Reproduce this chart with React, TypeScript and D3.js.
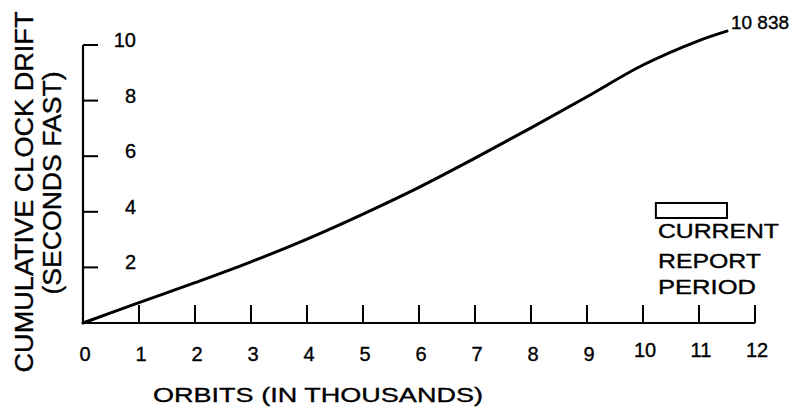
import { useEffect, useRef } from "react";
import * as d3 from "d3";

// values (orbits in thousands, seconds fast)
const orbits = [0, 1, 2, 3, 4, 5, 6, 7, 8, 9, 10, 11, 11.5];
const drift = [0, 0.73, 1.45, 2.2, 3.02, 3.92, 4.88, 5.93, 7.02, 8.14, 9.28, 10.16, 10.5];

const xTicks = [0, 1, 2, 3, 4, 5, 6, 7, 8, 9, 10, 11, 12];
const yTicks = [2, 4, 6, 8, 10];

const endLabel = "10 838";
const periodStart = 10.23;
const periodEnd = 11.5;
const periodLines = ["CURRENT", "REPORT", "PERIOD"];

export default function App() {
  const svgRef = useRef<SVGSVGElement | null>(null);

  useEffect(() => {
    const width = 798;
    const height = 410;
    const font = "'Liberation Sans', Arial, sans-serif";

    const svg = d3
      .select(svgRef.current)
      .attr("width", width)
      .attr("height", height)
      .style("background", "#fff");

    svg.selectAll("*").remove();

    const x = d3.scaleLinear().domain([0, 12]).range([83, 755]);
    const y = d3.scaleLinear().domain([0, 10]).range([323, 45]);

    // slightly thicker lettering like the scanned original
    const ink = (sel: any) =>
      sel
        .style("font-family", font)
        .attr("fill", "#000")
        .attr("stroke", "#000")
        .attr("stroke-width", 0.35);

    // y axis
    svg
      .append("line")
      .attr("x1", x(0))
      .attr("x2", x(0))
      .attr("y1", y(10))
      .attr("y2", y(0))
      .attr("stroke", "#000")
      .attr("stroke-width", 2.2);

    svg
      .selectAll(".ytick")
      .data(yTicks)
      .enter()
      .append("line")
      .attr("x1", x(0))
      .attr("x2", x(0) + 15)
      .attr("y1", (d) => y(d))
      .attr("y2", (d) => y(d))
      .attr("stroke", "#000")
      .attr("stroke-width", 2);

    svg
      .selectAll(".ylab")
      .data(yTicks)
      .enter()
      .append("text")
      .attr("x", 136)
      .attr("y", (d) => y(d) + 2)
      .attr("text-anchor", "end")
      .style("font-size", "20px")
      .call(ink)
      .text((d) => d);

    // x axis
    svg
      .append("line")
      .attr("x1", x(0))
      .attr("x2", x(12))
      .attr("y1", y(0))
      .attr("y2", y(0))
      .attr("stroke", "#000")
      .attr("stroke-width", 2.2);

    svg
      .selectAll(".xtick")
      .data(xTicks.slice(1))
      .enter()
      .append("line")
      .attr("x1", (d) => x(d))
      .attr("x2", (d) => x(d))
      .attr("y1", y(0))
      .attr("y2", y(0) - 18)
      .attr("stroke", "#000")
      .attr("stroke-width", 2);

    svg
      .selectAll(".xlab")
      .data(xTicks)
      .enter()
      .append("text")
      .attr("x", (d) => x(d) + 2)
      .attr("y", (d) => (d >= 10 ? 357 : 361))
      .attr("text-anchor", "middle")
      .style("font-size", "20px")
      .call(ink)
      .text((d) => d);

    svg
      .append("text")
      .attr("x", 153)
      .attr("y", 402)
      .attr("textLength", 330)
      .attr("lengthAdjust", "spacingAndGlyphs")
      .style("font-size", "21px")
      .call(ink)
      .text("ORBITS (IN THOUSANDS)");

    // y title, two lines
    svg
      .append("text")
      .attr("transform", "translate(33,192) rotate(-90)")
      .attr("text-anchor", "middle")
      .attr("textLength", 361)
      .attr("lengthAdjust", "spacingAndGlyphs")
      .style("font-size", "25px")
      .call(ink)
      .text("CUMULATIVE CLOCK DRIFT");

    svg
      .append("text")
      .attr("transform", "translate(61,183) rotate(-90)")
      .attr("text-anchor", "middle")
      .attr("textLength", 223)
      .attr("lengthAdjust", "spacingAndGlyphs")
      .style("font-size", "25px")
      .call(ink)
      .text("(SECONDS FAST)");

    // drift curve
    const pts = orbits.map((o, i) => [o, drift[i]] as [number, number]);
    const line = d3
      .line<[number, number]>()
      .x((d) => x(d[0]))
      .y((d) => y(d[1]))
      .curve(d3.curveCatmullRom.alpha(0.5));

    svg
      .append("path")
      .attr("d", line(pts))
      .attr("fill", "none")
      .attr("stroke", "#000")
      .attr("stroke-width", 3)
      .attr("stroke-linecap", "round");

    const last = pts[pts.length - 1];
    svg
      .append("text")
      .attr("x", x(last[0]) + 4)
      .attr("y", y(last[1]) - 2)
      .attr("textLength", 58)
      .attr("lengthAdjust", "spacingAndGlyphs")
      .style("font-size", "18px")
      .call(ink)
      .text(endLabel);

    // current report period legend
    svg
      .append("rect")
      .attr("x", x(periodStart))
      .attr("y", 203)
      .attr("width", x(periodEnd) - x(periodStart))
      .attr("height", 15)
      .attr("fill", "none")
      .attr("stroke", "#000")
      .attr("stroke-width", 2);

    const lineWidths = [121, 103, 98];
    const lineY = [238, 268, 294];
    svg
      .selectAll(".plab")
      .data(periodLines)
      .enter()
      .append("text")
      .attr("x", 658)
      .attr("y", (d, i) => lineY[i])
      .attr("textLength", (d, i) => lineWidths[i])
      .attr("lengthAdjust", "spacingAndGlyphs")
      .style("font-size", "20px")
      .call(ink)
      .text((d) => d);
  }, []);

  return (
    <svg
      ref={svgRef}
      style={{ position: "absolute", left: 0, top: 0 }}
    ></svg>
  );
}
